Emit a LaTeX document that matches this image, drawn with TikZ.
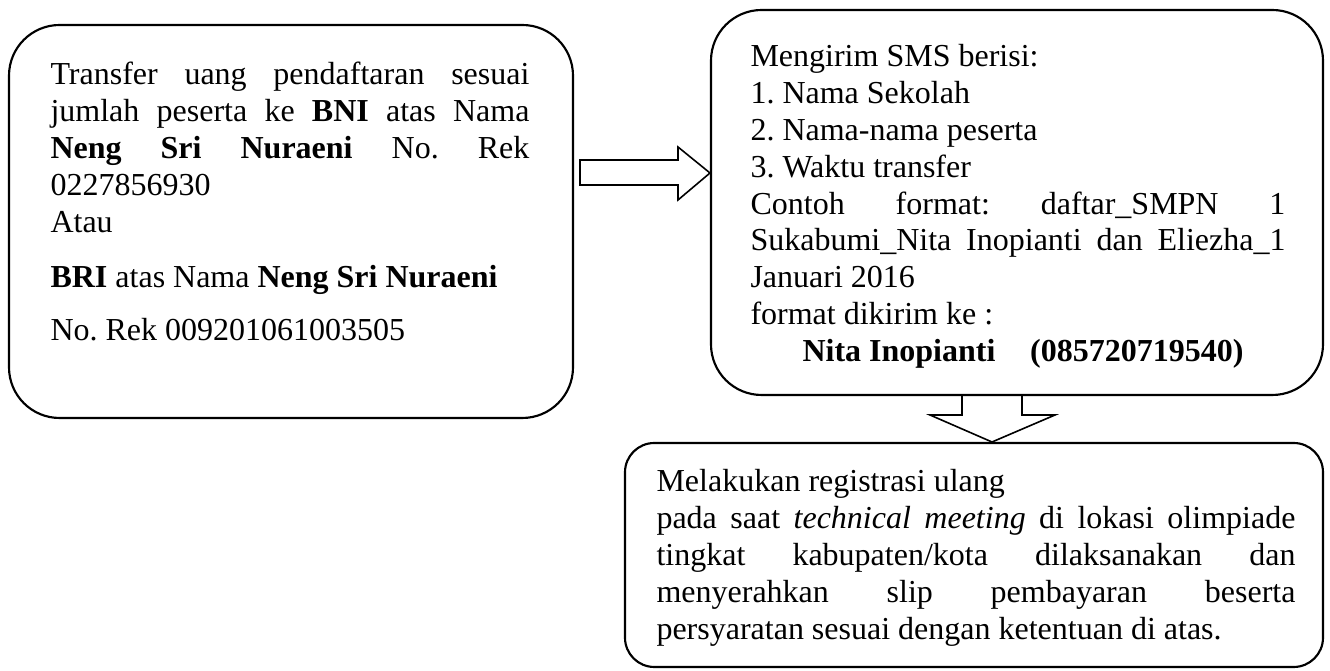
\documentclass[tikz,border=0pt]{standalone}
\usepackage{fontspec}
\setmainfont{Liberation Serif}
\usetikzlibrary{fit}
\hyphenpenalty=10000
\tolerance=10000
\frenchspacing

\begin{document}
\begin{tikzpicture}[x=0.375pt, y=-0.375pt,
  panel/.style={draw, line width=0.8pt, rounded corners=19pt, inner sep=0pt},
  txt/.style={anchor=base west, inner sep=0pt, align=justify,
    font=\fontsize{12pt}{13.8pt}\selectfont},
  blockarrow/.style={draw, line width=0.6pt, line join=miter}
]
  \useasboundingbox (0,0) rectangle (1330,671);
  \node[panel, fit={(9,25) (573,418)}] (bankbox) {};
  \node[panel, fit={(711,10) (1323,395)}] (smsbox) {};
  \node[panel, rounded corners=11pt, fit={(625,443) (1323,667)}] (regbox) {};
  \node[txt, text width=179.6pt] (banktxt) at (50,85) {Transfer uang pendaftaran sesuai\linebreak
    jumlah peserta ke \textbf{BNI} atas Nama\linebreak
    \textbf{Neng Sri Nuraeni} No. Rek\linebreak
    0227856930\\ Atau\\[7pt]
    \textbf{BRI} atas Nama \textbf{Neng Sri Nuraeni}\\[6pt]
    No. Rek 009201061003505};
  \node[txt, text width=200.6pt] (smstxt) at (750,67) {Mengirim SMS berisi:\\
    1. Nama Sekolah\\ 2. Nama-nama peserta\\ 3. Waktu transfer\\
    Contoh format: daftar\_SMPN 1\linebreak
    Sukabumi\_Nita Inopianti dan Eliezha\_1\linebreak
    Januari 2016\\ format dikirim ke :\\
    \hspace*{19.5pt}\textbf{Nita Inopianti}\hspace{13pt}\textbf{(085720719540)}};
  \node[txt, text width=239.6pt] (regtxt) at (656,492) {Melakukan registrasi ulang\\
    pada saat \textit{technical meeting} di lokasi olimpiade\linebreak
    tingkat kabupaten/kota dilaksanakan dan\linebreak
    menyerahkan slip pembayaran beserta\linebreak
    persyaratan sesuai dengan ketentuan di atas.};
  \draw[blockarrow] (580,160) -- (678,160) -- (678,147) -- (710,173) -- (678,200)
    -- (678,185) -- (580,185) -- cycle;
  \draw[blockarrow] (962,395) -- (962,415) -- (930,415) -- (992,442) -- (1055,415)
    -- (1022,415) -- (1022,395);
\end{tikzpicture}
\end{document}
